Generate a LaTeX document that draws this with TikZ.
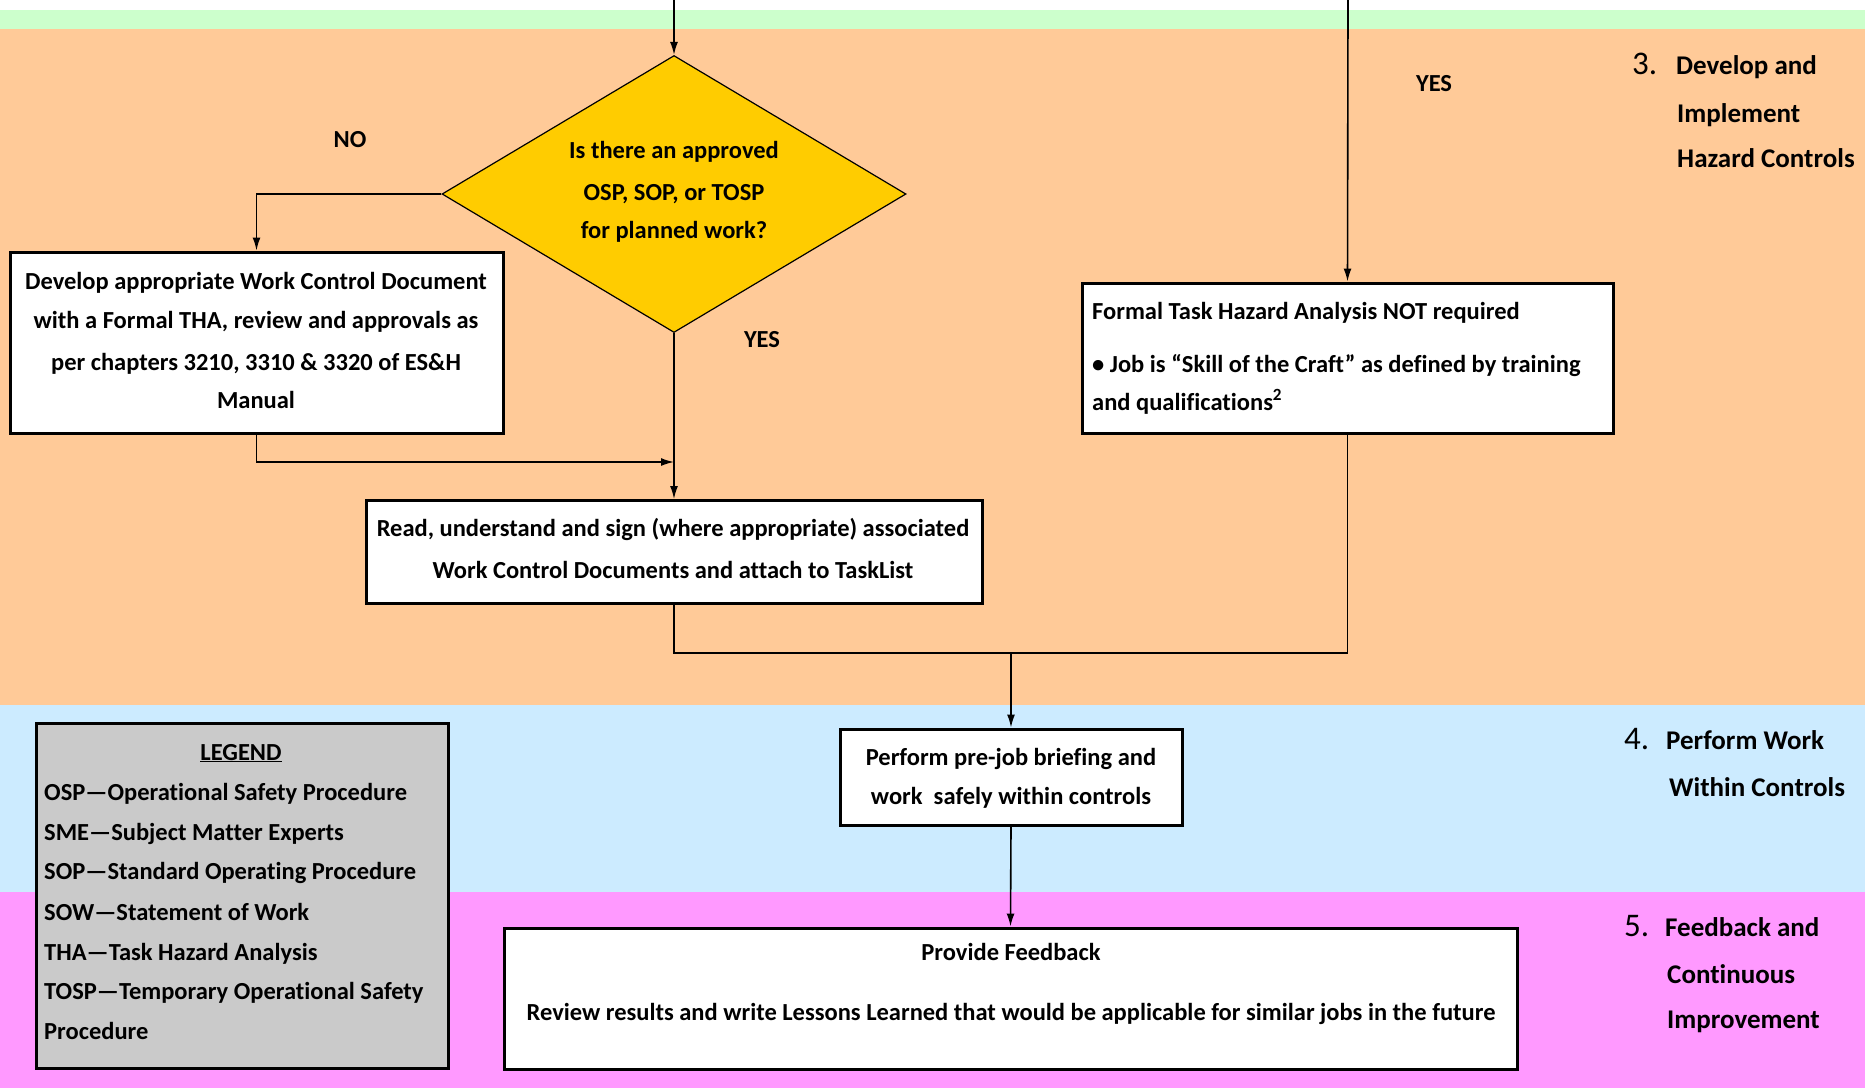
\documentclass[tikz,border=0pt]{standalone}
\usepackage{fontspec}
\setmainfont{Carlito}[Ligatures=NoCommon]
\usetikzlibrary{arrows.meta,shapes.geometric}
\definecolor{bandgreen}{HTML}{CCFFCC}
\definecolor{bandorange}{HTML}{FFCA98}
\definecolor{bandblue}{HTML}{CCEBFF}
\definecolor{bandpink}{HTML}{FF99FF}
\definecolor{dgold}{HTML}{FFCC00}
\definecolor{leggray}{HTML}{CACACA}
\begin{document}
\begin{tikzpicture}[x=1pt,y=-1pt,
  txt/.style={font=\fontsize{24.5}{40}\selectfont\bfseries,inner sep=0pt,anchor=base},
  ltxt/.style={txt,anchor=base west},
  sect/.style={font=\fontsize{27}{40}\selectfont\bfseries,inner sep=0pt,anchor=base west},
  num/.style={font=\fontsize{33}{40}\selectfont,inner sep=0pt,anchor=base west},
  box/.style={draw=black,line width=3pt,fill=white,inner sep=0pt},
  conn/.style={line width=1.6pt},
  arr/.style={conn,-{Latex[length=13pt,width=8pt]}}
]
\useasboundingbox (0,0) rectangle (1865,1088);
% bands
\fill[white] (0,0) rectangle (1865,10);
\fill[bandgreen] (0,10) rectangle (1865,29);
\fill[bandorange] (0,29) rectangle (1865,705);
\fill[bandblue] (0,705) rectangle (1865,892);
\fill[bandpink] (0,892) rectangle (1865,1088);

% shapes
\node[draw=black,line width=1.2pt,fill=dgold,shape=diamond,aspect=1.675,
      minimum width=464pt,minimum height=277pt,inner sep=0pt] (dia) at (674,194) {};
\node[box,minimum width=493pt,minimum height=181pt] (dev) at (256.5,342.5) {};
\node[box,minimum width=531pt,minimum height=150pt] (formal) at (1347.5,358) {};
\node[box,minimum width=616pt,minimum height=103pt] (read) at (674,552) {};
\node[box,minimum width=342pt,minimum height=96pt] (perf) at (1011,777) {};
\node[box,minimum width=1013pt,minimum height=141pt] (feed) at (1010.5,998.5) {};
\node[box,fill=leggray,minimum width=412pt,minimum height=345pt] (legend) at (242,895.5) {};

% connectors
\coordinate (in1) at (674,0);
\coordinate (in2) at (1348,0);
\coordinate (m1) at (674,462);
\coordinate (j) at (1011,653);
\draw[arr] (in1) -- (dia.north);
\draw[arr] (in2) -- (formal.north);
\draw[arr] (dia.west) -| (dev.north);
\draw[arr] (dev.south) |- (m1);
\draw[arr] (dia.south) -- (read.north);
\draw[conn] (read.south) -- (read.south |- j) -- (formal.south |- j) -- (formal.south);
\draw[arr] (j) -- (perf.north);
\draw[arr] (perf.south) -- (feed.north);

% diamond text
\node[txt] (d1) at (674,158) {Is there an approved};
\node[txt] (d2) at (674,200) {OSP, SOP, or TOSP};
\node[txt] (d3) at (674,238) {for planned work?};
% develop text
\node[txt] (v1) at (256,289) {Develop appropriate Work Control Document};
\node[txt] (v2) at (256,328) {with a Formal THA, review and approvals as};
\node[txt] (v3) at (256,370) {per chapters 3210, 3310 \& 3320 of ES\&H};
\node[txt] (v4) at (256,408) {Manual};
% formal text
\node[ltxt] (f1) at (1092,319) {Formal Task Hazard Analysis NOT required};
\node[ltxt] (f2) at (1092,372) {• Job is “Skill of the Craft” as defined by training};
\node[ltxt] (f3) at (1092,410) {and qualifications\textsuperscript{2}};
% read text
\node[txt] (r1) at (673,536) {Read, understand and sign (where appropriate) associated};
\node[txt] (r2) at (673,578) {Work Control Documents and attach to TaskList};
% perform text
\node[txt] (p1) at (1011,765) {Perform pre-job briefing and};
\node[txt] (p2) at (1011,804) {work\ \ safely within controls};
% feedback text
\node[txt] (b1) at (1011,960) {Provide Feedback};
\node[txt] (b2) at (1011,1020) {Review results and write Lessons Learned that would be applicable for similar jobs in the future};
% legend text
\node[txt] (lg) at (241,760) {\underline{LEGEND}};
\node[ltxt] (l1) at (44,800) {OSP—Operational Safety Procedure};
\node[ltxt] (l2) at (44,840) {SME—Subject Matter Experts};
\node[ltxt] (l3) at (44,879) {SOP—Standard Operating Procedure};
\node[ltxt] (l4) at (44,920) {SOW—Statement of Work};
\node[ltxt] (l5) at (44,960) {THA—Task Hazard Analysis};
\node[ltxt] (l6) at (44,999) {TOSP—Temporary Operational Safety};
\node[ltxt] (l7) at (44,1039) {Procedure};
% branch labels
\node[txt] (no) at (350,147) {NO};
\node[txt] (yes1) at (762,347) {YES};
\node[txt] (yes2) at (1434,91) {YES};
% section labels
\node[num] (n3) at (1632,74) {3.};
\node[sect] (s31) at (1676,74) {Develop and};
\node[sect] (s32) at (1677,122) {Implement};
\node[sect] (s33) at (1677,167) {Hazard Controls};
\node[num] (n4) at (1624,749) {4.};
\node[sect] (s41) at (1666,749) {Perform Work};
\node[sect] (s42) at (1669,796) {Within Controls};
\node[num] (n5) at (1624,936) {5.};
\node[sect] (s51) at (1665,936) {Feedback and};
\node[sect] (s52) at (1667,983) {Continuous};
\node[sect] (s53) at (1667,1028) {Improvement};
\end{tikzpicture}
\end{document}
